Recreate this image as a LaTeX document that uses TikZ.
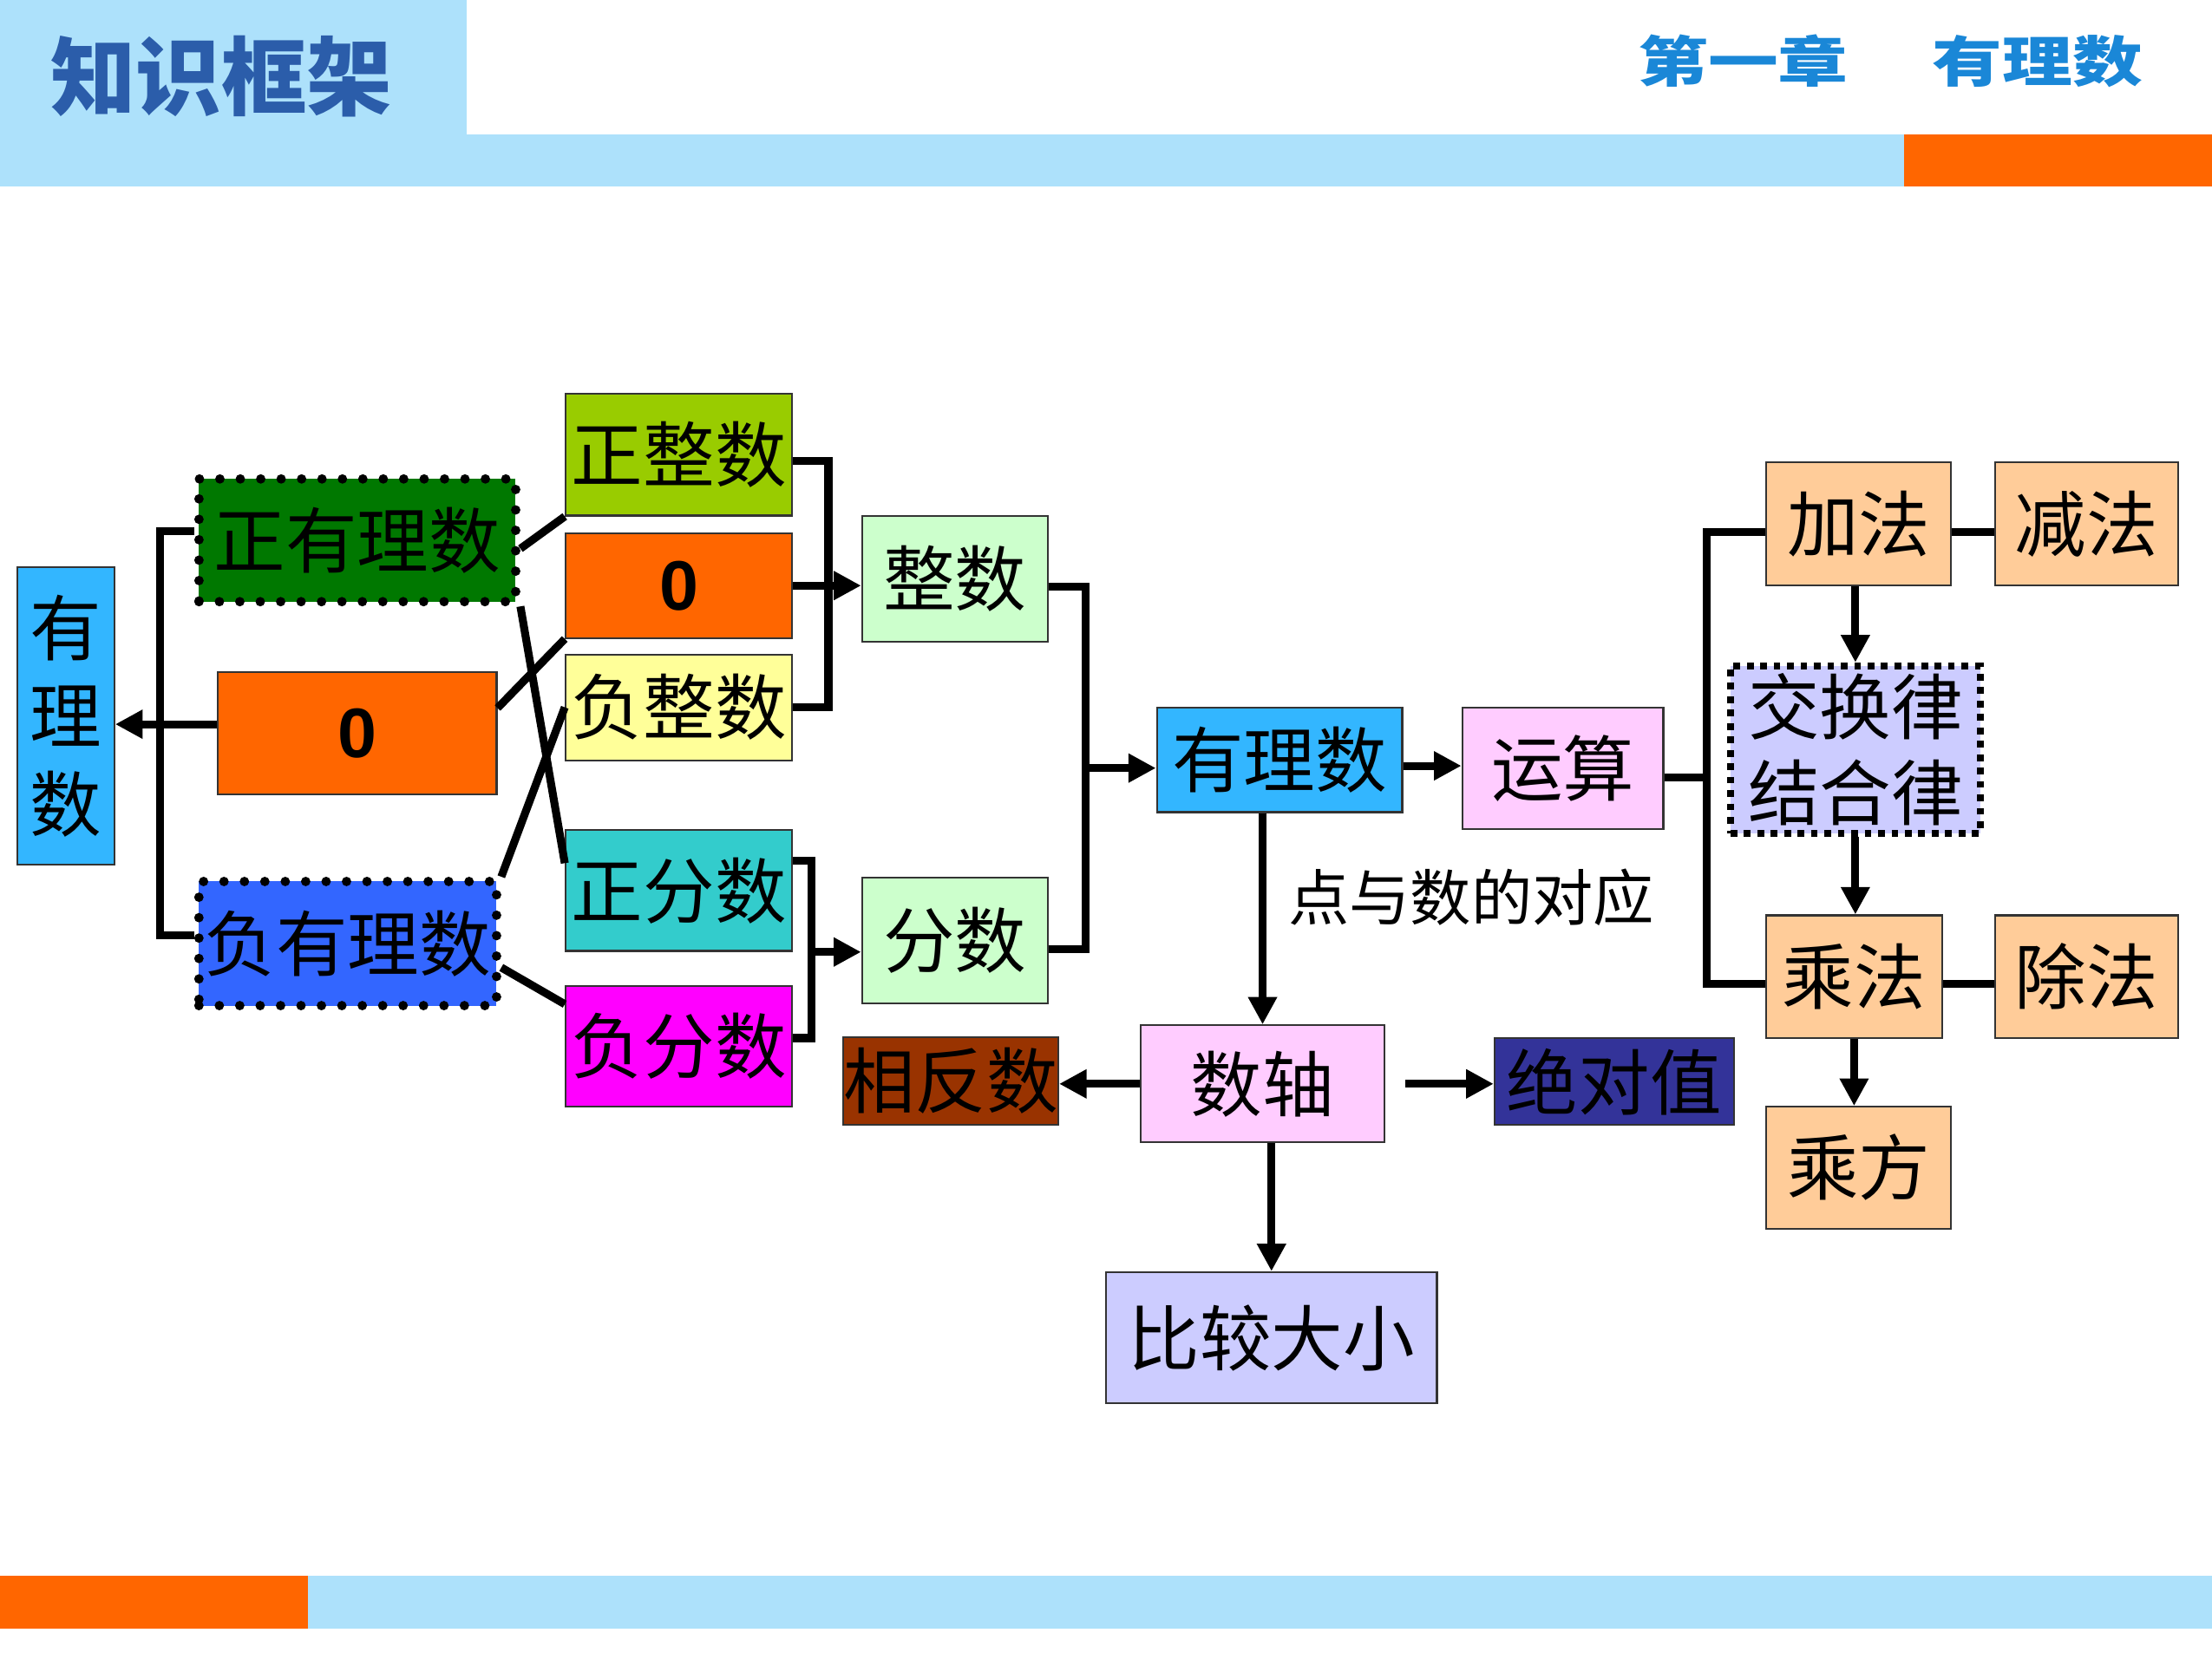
\documentclass[tikz,border=0pt]{standalone}
\usepackage{fontspec}
\usepackage{tikz}
\usetikzlibrary{arrows.meta}
\newfontfamily\cjk{Noto Sans CJK SC}
\newfontfamily\latin{Liberation Sans}
\newdimen\px \px=0.01626cm
\definecolor{band}{RGB}{173,225,251}
\definecolor{orangeb}{RGB}{255,102,0}
\definecolor{titleblue}{RGB}{43,93,170}
\definecolor{chapblue}{RGB}{26,135,215}
\definecolor{skyq}{RGB}{51,182,255}
\definecolor{dgreen}{RGB}{0,120,0}
\definecolor{nblue}{RGB}{51,102,255}
\definecolor{ygreen}{RGB}{153,204,0}
\definecolor{lyellow}{RGB}{255,255,153}
\definecolor{tealb}{RGB}{51,204,204}
\definecolor{magb}{RGB}{255,0,255}
\definecolor{lgreen}{RGB}{204,255,204}
\definecolor{pinkb}{RGB}{255,204,255}
\definecolor{peach}{RGB}{255,204,153}
\definecolor{lav}{RGB}{204,204,255}
\definecolor{brownb}{RGB}{153,51,0}
\definecolor{navyb}{RGB}{51,51,153}

\begin{document}
\begin{tikzpicture}[
  x=\px, y=-\px,
  box/.style={
    draw=black!80, line width=0.6pt, inner sep=0pt,
    font=\cjk\fontsize{23.5}{28}\selectfont, align=center
  },
  dotbox/.style={
    box, draw=black, line width=3.1pt, line cap=round,
    dash pattern=on 0pt off 6.7pt
  },
  lawbox/.style={
    box, draw=black, line width=2.2pt, dash pattern=on 2.2pt off 2.2pt
  },
  zerobox/.style={
    box, fill=orangeb, font=\latin\bfseries\fontsize{23}{28}\selectfont
  },
  link/.style={line width=2.6pt},
  arr/.style={link, -{Triangle[length=9pt,width=9pt]}}
]
  \useasboundingbox (0,0) rectangle (1568,1176);
  % header and footer bands
  \fill[band] (0,0) rectangle (331,95);
  \fill[band] (0,95) rectangle (1568,132);
  \fill[orangeb] (1350,95) rectangle (1568,132);
  \fill[orangeb] (0,1117) rectangle (218,1155);
  \fill[band] (218,1117) rectangle (1568,1155);
  \node[font=\cjk\bfseries\fontsize{28}{28}\selectfont, text=titleblue,
    inner sep=0pt] (title) at (157,54) {知识框架};
  \node[font=\cjk\bfseries\fontsize{23}{23}\selectfont, text=chapblue,
    inner sep=0pt] (chap) at (1340,43.5)
    {\scalebox{1}[0.78]{第一章\hspace{1.2em}有理数}};

  % classification
  \node[box, fill=skyq, minimum width=68.7\px, minimum height=210.6\px,
    font=\cjk\fontsize{23.5}{29}\selectfont] (rat) at (46.7,507.7) {有\\理\\数};
  \node[dotbox, fill=dgreen, minimum width=224.5\px, minimum height=87\px]
    (pos) at (253.3,383.1) {正有理数};
  \node[zerobox, minimum width=197.5\px, minimum height=86.4\px]
    (zero) at (253.3,519.8) {0};
  \node[dotbox, fill=nblue, minimum width=211\px, minimum height=88\px]
    (neg) at (246.5,669) {负有理数};
  \node[box, fill=ygreen, minimum width=160.6\px, minimum height=86.5\px]
    (posint) at (481.3,322.3) {正整数};
  \node[zerobox, minimum width=160.6\px, minimum height=74.4\px]
    (zeroint) at (481.3,415.2) {0};
  \node[box, fill=lyellow, minimum width=160.6\px, minimum height=75\px]
    (negint) at (481.3,501.5) {负整数};
  \node[box, fill=tealb, minimum width=160.6\px, minimum height=85.7\px]
    (posfrac) at (481.3,631.4) {正分数};
  \node[box, fill=magb, minimum width=160.6\px, minimum height=85.4\px]
    (negfrac) at (481.3,741.9) {负分数};
  \node[box, fill=lgreen, minimum width=131.5\px, minimum height=89.4\px]
    (int) at (676.8,410.5) {整数};
  \node[box, fill=lgreen, minimum width=131.5\px, minimum height=89.5\px]
    (frac) at (676.8,666.8) {分数};

  % operations and number line
  \node[box, fill=skyq, minimum width=174\px, minimum height=74.3\px]
    (rat2) at (907,538.7) {有理数};
  \node[box, fill=pinkb, minimum width=142.5\px, minimum height=86.5\px]
    (ops) at (1107.8,544.8) {运算};
  \node[box, fill=peach, minimum width=131\px, minimum height=87\px]
    (add) at (1317.5,371.3) {加法};
  \node[box, fill=peach, minimum width=130\px, minimum height=87\px]
    (sub) at (1479,371.3) {减法};
  \node[lawbox, fill=lav, minimum width=177\px, minimum height=118.7\px]
    (law) at (1315.2,531.4) {交换律\\结合律};
  \node[box, fill=peach, minimum width=124.6\px, minimum height=87\px]
    (mul) at (1314.3,692.5) {乘法};
  \node[box, fill=peach, minimum width=130\px, minimum height=87\px]
    (div) at (1479,692.5) {除法};
  \node[box, fill=peach, minimum width=131\px, minimum height=86.3\px]
    (pow) at (1317.5,827.9) {乘方};
  \node[box, fill=pinkb, minimum width=173\px, minimum height=83\px]
    (axis) at (895,768.5) {数轴};
  \node[box, fill=brownb, minimum width=152\px, minimum height=62\px]
    (opp) at (674,766.4) {相反数};
  \node[box, fill=navyb, minimum width=169.6\px, minimum height=61.7\px]
    (absv) at (1144.2,766.9) {绝对值};
  \node[box, fill=lav, minimum width=234.6\px, minimum height=93\px]
    (cmp) at (901.3,948.5) {比较大小};
  \node[font=\cjk\fontsize{20}{24}\selectfont, inner sep=0pt] (corr)
    at (1043,636) {点与数的对应};

  % left brackets and crossings
  \draw[link] (pos.west |- 0,376.5) -- ++(-24,0) |- (neg.west |- 0,663);
  \draw[arr] (zero.west |- 0,513.5) -- (rat.east |- 0,513.5);
  \draw[link] (pos.east |- 0,389) -- (posint.south west);
  \draw[link] (pos.south east) -- (posfrac.west |- 0,612);
  \draw[link] (zero.east |- 0,502) -- (zeroint.south west);
  \draw[link] (neg.north east) -- (negint.west);
  \draw[link] (neg.east |- 0,686) -- (negfrac.west |- 0,712);

  \coordinate (fj) at (575,675);
  \coordinate (nj) at (769.5,544.6);
  \draw[link] (posint.east |- 0,326.6) -- ++(25,0) |- (negint.east);
  \draw[arr] (zeroint.east) -- (zeroint.east -| int.west);
  \draw[link] (posfrac.east |- 0,610.5) -- (fj |- 0,610.5) |- (negfrac.east |- 0,736);
  \draw[arr] (fj) -- (fj -| frac.west);
  \draw[link] (int.east |- 0,416) -- (nj |- 0,416) |- (frac.east |- 0,673);
  \draw[arr] (nj) -- (nj -| rat2.west);

  % right side
  \coordinate (oj) at (1210,551);
  \draw[arr] (rat2.east |- 0,543) -- (ops.west |- 0,543);
  \draw[link] (ops.east |- oj) -- (oj);
  \draw[link] (add.west |- 0,377) -- (oj |- 0,377) |- (mul.west |- 0,697.6);
  \draw[link] (add.east |- 0,377) -- (sub.west |- 0,377);
  \draw[link] (mul.east |- 0,697.6) -- (div.west |- 0,697.6);
  \draw[arr] (add.south -| law.north) -- (law.north);
  \draw[arr] (law.south) -- (law.south |- mul.north);
  \draw[arr] (mul.south) -- (mul.south |- pow.north);
  \draw[arr] (rat2.south -| axis.north) -- (axis.north);
  \draw[arr] (axis.west) -- (axis.west -| opp.east);
  \draw[arr, shorten <=0.23cm] (axis.east) -- (axis.east -| absv.west);
  \draw[arr] (axis.south -| cmp.north) -- (cmp.north);
\end{tikzpicture}
\end{document}
